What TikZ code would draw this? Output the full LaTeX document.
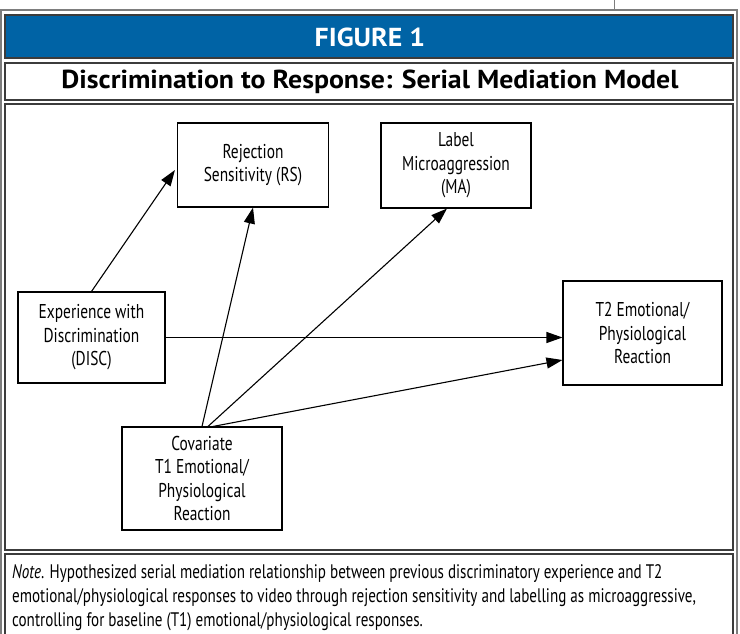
\documentclass[tikz,border=0pt]{standalone}
\usepackage{fontspec}
\setmainfont{PT Sans}[FakeStretch=0.77]
\newfontfamily\headfont{PT Sans}[FakeStretch=1.07]
\usepackage{xcolor}
\usepackage{tikz}
\usetikzlibrary{arrows.meta,calc}

\definecolor{headblue}{RGB}{0,99,165}
\definecolor{framegray}{RGB}{125,125,125}
\definecolor{boxgray}{RGB}{60,60,60}

\tikzset{
  varbox/.style={draw=black, line width=1.1pt, align=center, inner sep=0pt, font=\fontsize{20}{23.5}\selectfont},
  path arrow/.style={line width=1.1pt, -{Triangle[length=16pt,width=11pt]}},
  panel/.style={draw=boxgray, line width=1.2pt}
}

\begin{document}
\begin{tikzpicture}[x=1pt,y=1pt,yscale=-1,xscale=1]
\useasboundingbox (0,0) rectangle (740,634);

%Frames
\draw [framegray, line width=1pt] (614,0) -- (614,10) ;
\draw [panel, draw=framegray] (1,10) rectangle (737,640) ;
\draw [panel, fill=headblue] (5,15) rectangle (733,58) ;
\draw [panel] (5,63) rectangle (733,100) ;
\draw [panel] (5,104) rectangle (733,550) ;
\draw [panel] (5,554) rectangle (733,640) ;

% Text Node
\node (fig) at (370,37) [text=white, font=\headfont\fontsize{26}{30}\selectfont\bfseries] {FIGURE 1};
% Text Node
\node (title) at (370,82) [font=\headfont\fontsize{26}{30}\selectfont\bfseries] {Discrimination to Response: Serial Mediation Model};

%Variables
\node (rs) at (253,165) [varbox, minimum width=151, minimum height=84] {Rejection\\Sensitivity (RS)};
\node (ma) at (456,165.5) [varbox, minimum width=150, minimum height=85] {Label\\Microaggression\\(MA)};
\node (disc) at (91.5,337.5) [varbox, minimum width=147, minimum height=91] {Experience with\\Discrimination\\(DISC)};
\node (t2) at (642.5,333) [varbox, minimum width=159, minimum height=104] {T2 Emotional/\\Physiological\\Reaction};
\node (cov) at (202,478.5) [varbox, minimum width=160, minimum height=103] {Covariate\\T1 Emotional/\\Physiological\\Reaction};

%Paths
\draw [path arrow] (disc.north) -- ($(rs.west)+(-2,5)$) ;
\draw [path arrow] (disc.east) -- (disc.east -| t2.west) ;
\draw [path arrow] (cov.north) -- (rs.south) ;
\draw [path arrow] ($(cov.north)+(6,0)$) -- ($(ma.south)+(-9,0)$) ;
\draw [path arrow] ($(cov.north)+(11,0)$) -- ($(t2.west)+(0,27)$) ;

% Text Node
\node (note) at (12,598) [anchor=west, align=left, inner sep=0pt, font=\fontsize{19.6}{24}\selectfont] {\textit{Note}. Hypothesized serial mediation relationship between previous discriminatory experience and T2\\emotional/physiological responses to video through rejection sensitivity and labelling as microaggressive,\\controlling for baseline (T1) emotional/physiological responses.};

\end{tikzpicture}
\end{document}
